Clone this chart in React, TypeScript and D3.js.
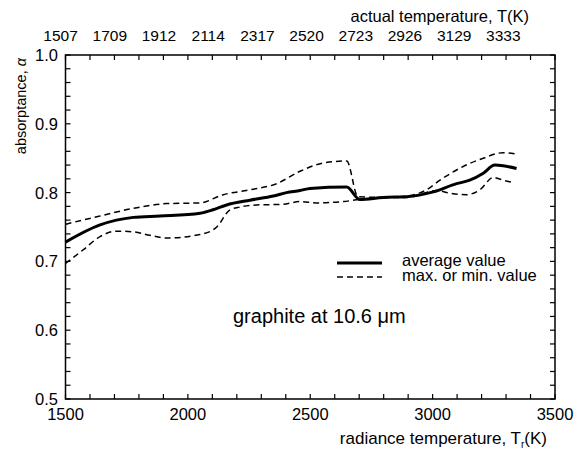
import React from 'react';
import * as d3 from 'd3';

const xDomain = [1500, 3500];
const yDomain = [0.5, 1.0];
const xTickLabels = [1500, 2000, 2500, 3000, 3500];
const yTickLabels = [0.5, 0.6, 0.7, 0.8, 0.9, 1.0];
const actualTempLabels = ['1507', '1709', '1912', '2114', '2317', '2520', '2723', '2926', '3129', '3333'];
const actualTempPositions = [1480, 1681, 1882, 2083, 2284, 2485, 2686, 2887, 3088, 3289];

const avgT = [1500, 1641, 1777, 1886, 2050, 2103, 2158, 2254, 2349, 2403, 2458, 2499, 2649, 2703, 2798, 2894, 3003, 3098, 3152, 3207, 3254, 3288, 3343];
const avgV = [0.728, 0.753, 0.764, 0.766, 0.770, 0.775, 0.782, 0.789, 0.795, 0.800, 0.803, 0.806, 0.808, 0.790, 0.793, 0.794, 0.801, 0.813, 0.818, 0.828, 0.840, 0.839, 0.835];

const maxT = [1500, 1641, 1777, 1913, 2049, 2145, 2254, 2363, 2458, 2553, 2649, 2695, 2798, 2894, 2975, 3030, 3125, 3207, 3288, 3343];
const maxV = [0.754, 0.766, 0.777, 0.784, 0.785, 0.797, 0.804, 0.813, 0.831, 0.843, 0.846, 0.794, 0.793, 0.795, 0.804, 0.818, 0.838, 0.850, 0.858, 0.856];

const minT = [1500, 1573, 1641, 1709, 1777, 1845, 1913, 2049, 2118, 2172, 2213, 2281, 2390, 2458, 2526, 2635, 2703, 2798, 2894, 3016, 3071, 3139, 3193, 3248, 3288, 3336];
const minV = [0.697, 0.717, 0.736, 0.744, 0.743, 0.738, 0.734, 0.739, 0.750, 0.775, 0.779, 0.782, 0.783, 0.787, 0.785, 0.787, 0.790, 0.793, 0.793, 0.803, 0.799, 0.797, 0.804, 0.822, 0.818, 0.814];

const W = 583;
const H = 451;
const M = { left: 65.5, right: 555, top: 55, bottom: 399 };
const FONT = 'Liberation Sans, Arial, Helvetica, sans-serif';

export default function App() {
  const x = d3.scaleLinear().domain(xDomain).range([M.left, M.right]);
  const y = d3.scaleLinear().domain(yDomain).range([M.bottom, M.top]);

  const line = d3
    .line<[number, number]>()
    .x((d) => x(d[0]))
    .y((d) => y(d[1]))
    .curve(d3.curveMonotoneX);

  const zip = (a: number[], b: number[]) => a.map((t, i) => [t, b[i]] as [number, number]);

  const xMinor = d3.range(xDomain[0], xDomain[1] + 1, 100);
  const yMinor = d3.range(0, 26).map((i) => yDomain[0] + i * 0.02);
  const tl = 5;

  return (
    <svg
      width={W}
      height={H}
      style={{ position: 'absolute', left: 0, top: 0, background: '#fff' }}
      fontFamily={FONT}
    >
      <rect x={0} y={0} width={W} height={H} fill="#fff" />
      {xMinor.map((t) => (
        <g key={'xt' + t} stroke="#000" strokeWidth={1.2}>
          <line x1={x(t)} x2={x(t)} y1={M.bottom} y2={M.bottom - tl} />
          <line x1={x(t)} x2={x(t)} y1={M.top} y2={M.top + tl} />
        </g>
      ))}
      {yMinor.map((v, i) => (
        <g key={'yt' + i} stroke="#000" strokeWidth={1.2}>
          <line x1={M.left} x2={M.left + tl} y1={y(v)} y2={y(v)} />
          <line x1={M.right} x2={M.right - tl} y1={y(v)} y2={y(v)} />
        </g>
      ))}
      <rect
        x={M.left}
        y={M.top}
        width={M.right - M.left}
        height={M.bottom - M.top}
        fill="none"
        stroke="#000"
        strokeWidth={1.5}
      />
      {xTickLabels.map((t) => (
        <text key={'xl' + t} x={x(t)} y={419.5} textAnchor="middle" fontSize={16.5}>
          {t}
        </text>
      ))}
      {yTickLabels.map((v) => (
        <text key={'yl' + v} x={58} y={y(v)} dy="0.36em" textAnchor="end" fontSize={16.5}>
          {v.toFixed(1)}
        </text>
      ))}
      {actualTempLabels.map((lab, i) => (
        <text key={'al' + lab} x={x(actualTempPositions[i])} y={41} textAnchor="middle" fontSize={15.5}>
          {lab}
        </text>
      ))}
      <text x={529} y={22} textAnchor="end" fontSize={16.5}>
        actual temperature, T(K)
      </text>
      <text x={547} y={444} textAnchor="end" fontSize={17}>
        radiance temperature, T<tspan fontSize={10} dy={4}>r</tspan>
        <tspan dy={-4}>(K)</tspan>
      </text>
      <text transform="translate(26,58) rotate(-90)" textAnchor="end" fontSize={14.5}>
        absorptance, <tspan fontStyle="italic">α</tspan>
      </text>
      <path d={line(zip(maxT, maxV)) || ''} fill="none" stroke="#000" strokeWidth={1.5} strokeDasharray="6,4" />
      <path d={line(zip(minT, minV)) || ''} fill="none" stroke="#000" strokeWidth={1.5} strokeDasharray="6,4" />
      <path d={line(zip(avgT, avgV)) || ''} fill="none" stroke="#000" strokeWidth={3} />
      <line x1={337} x2={382} y1={263} y2={263} stroke="#000" strokeWidth={3} />
      <line x1={337} x2={382} y1={277} y2={277} stroke="#000" strokeWidth={1.5} strokeDasharray="6,4" />
      <text x={402} y={266} fontSize={16.5}>
        average value
      </text>
      <text x={402} y={280.5} fontSize={16.5}>
        max. or min. value
      </text>
      <text x={233} y={323} fontSize={20}>
        graphite at 10.6 μm
      </text>
    </svg>
  );
}
